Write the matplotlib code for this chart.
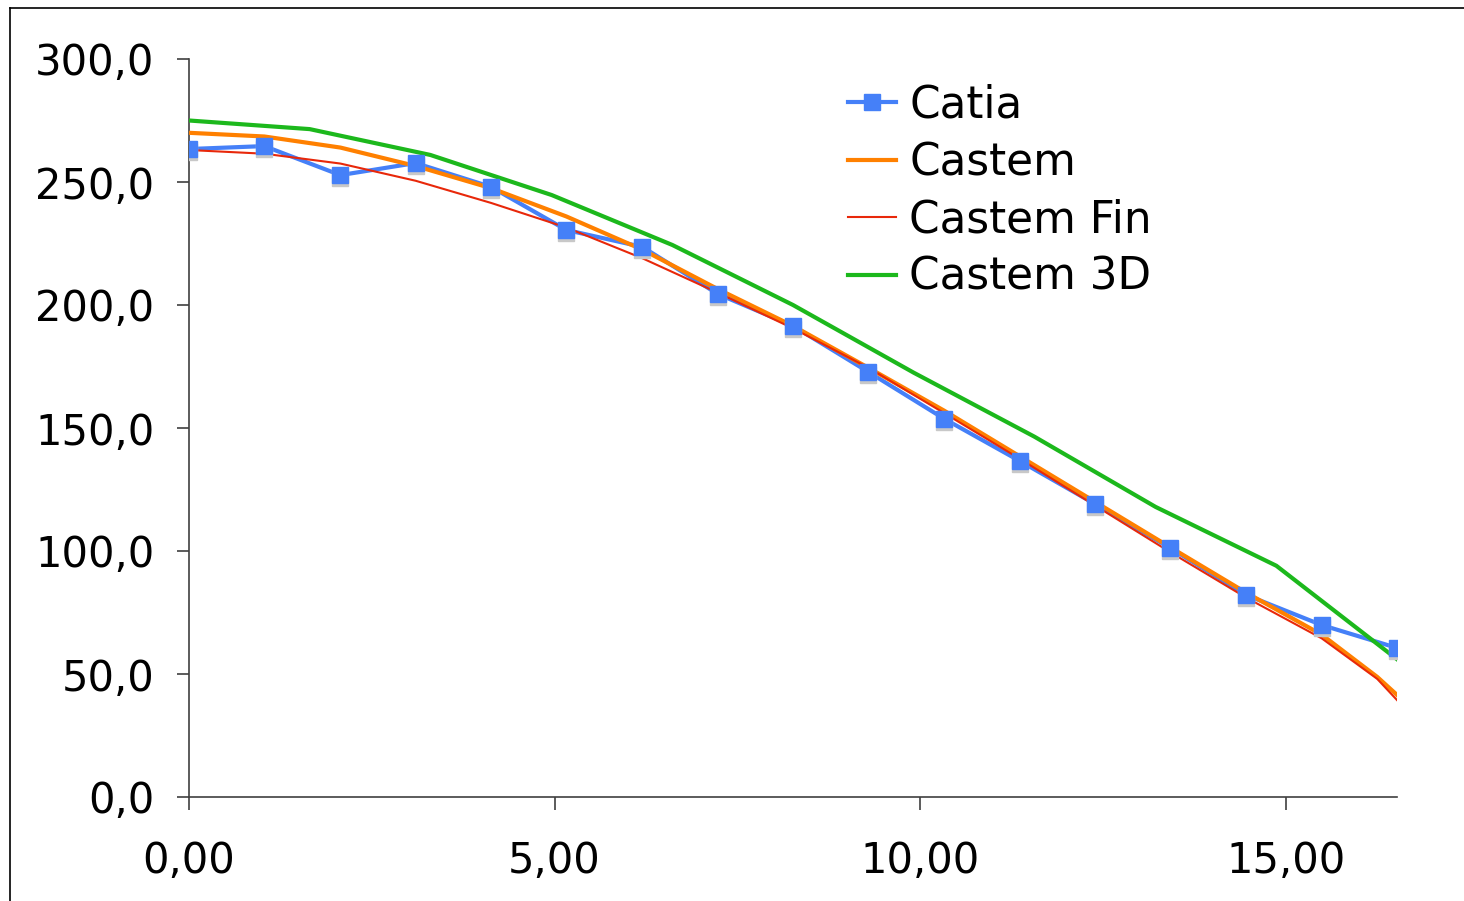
import matplotlib.pyplot as plt
from matplotlib.ticker import FuncFormatter
from matplotlib.transforms import offset_copy
from matplotlib.lines import Line2D

# data
catia_x = [0.00, 1.03, 2.07, 3.10, 4.13, 5.16, 6.20, 7.23, 8.26, 9.29,
           10.33, 11.36, 12.39, 13.42, 14.46, 15.49, 16.52]
catia_y = [263.4, 264.6, 252.8, 257.7, 248.0, 230.5, 223.6, 204.5, 191.5, 172.8,
           153.7, 136.6, 119.1, 101.2, 82.1, 69.9, 60.6]

castem_x = [0.00, 1.03, 2.07, 3.10, 4.13, 5.16, 6.20, 7.23, 8.26, 9.29,
            10.33, 11.36, 12.39, 13.42, 14.46, 15.49, 16.25, 16.52]
castem_y = [270.0, 268.5, 264.0, 256.5, 247.5, 236.0, 222.5, 206.5, 191.5, 174.5,
            157.0, 138.5, 120.0, 101.5, 83.0, 66.0, 48.8, 41.5]

fin_x = [0.00, 1.03, 2.07, 3.10, 4.13, 5.16, 6.20, 7.23, 8.26, 9.29,
         10.33, 11.36, 12.39, 13.42, 14.46, 15.49, 16.25, 16.52]
fin_y = [263.0, 261.5, 257.5, 250.5, 241.5, 231.5, 219.0, 205.0, 190.5, 174.5,
         156.0, 137.5, 118.5, 99.5, 81.0, 64.5, 48.0, 39.4]

c3d_x = [0.00, 1.65, 3.30, 4.96, 6.61, 8.26, 9.91, 11.56, 13.22, 14.87, 16.52]
c3d_y = [275.0, 271.5, 261.0, 244.7, 224.4, 200.0, 172.5, 146.5, 117.9, 94.0, 56.0]

xticks = [0, 5, 10, 15]
yticks = [0, 50, 100, 150, 200, 250, 300]

fig = plt.figure(figsize=(14.64, 9.01), dpi=100)
ax = fig.add_axes([189/1464, 1 - 797/901, (1397-189)/1464, (797-59)/901])

blue = '#4580F8'
orange = '#FF8000'
red = '#E8280A'
green = '#1CB81C'

ax.plot(c3d_x, c3d_y, color=green, lw=3, zorder=3)
ax.plot(castem_x, castem_y, color=orange, lw=3, zorder=3)
ax.plot(fin_x, fin_y, color=red, lw=1.5, zorder=4)
ax.plot(catia_x, catia_y, color=blue, lw=3, zorder=2)
# grey shadow under the square markers
shadow = offset_copy(ax.transData, fig=fig, x=0, y=-3, units='dots')
ax.plot(catia_x, catia_y, ls='none', marker='s', ms=11.5, color='#c8c8c8',
        mec='#c8c8c8', transform=shadow, zorder=5)
ax.plot(catia_x, catia_y, ls='none', marker='s', ms=11.5, color=blue,
        mec=blue, zorder=6)

ax.set_xlim(0, 16.52)
ax.set_ylim(0, 300)
ax.set_xticks(xticks)
ax.set_yticks(yticks)
ax.xaxis.set_major_formatter(FuncFormatter(lambda v, p: f"{v:.2f}".replace('.', ',')))
ax.yaxis.set_major_formatter(FuncFormatter(lambda v, p: f"{v:.1f}".replace('.', ',')))
ax.tick_params(axis='x', length=9, width=1.2, color='#404040', labelsize=30, pad=22)
ax.tick_params(axis='y', length=9, width=1.2, color='#404040', labelsize=30, pad=16)
for s in ['top', 'right']:
    ax.spines[s].set_visible(False)
for s in ['left', 'bottom']:
    ax.spines[s].set_color('#404040')
    ax.spines[s].set_linewidth(1.2)

handles = [
    Line2D([], [], color=blue, lw=3, marker='s', ms=11.5),
    Line2D([], [], color=orange, lw=3),
    Line2D([], [], color=red, lw=1.5),
    Line2D([], [], color=green, lw=3),
]
ax.legend(handles, ['Catia', 'Castem', 'Castem Fin', 'Castem 3D'],
          loc='upper left', bbox_to_anchor=(0.513, 1.02), frameon=False,
          fontsize=31.5, handlelength=1.1, handletextpad=0.3, labelspacing=0.33)

# outer frame lines (top and left)
fig.add_artist(Line2D([10/1464, 10/1464], [0, 1 - 8/901], color='black', lw=1.2,
                      transform=fig.transFigure))
fig.add_artist(Line2D([10/1464, 1], [1 - 8/901, 1 - 8/901], color='black', lw=1.2,
                      transform=fig.transFigure))

fig.savefig('out.png', dpi=100)
